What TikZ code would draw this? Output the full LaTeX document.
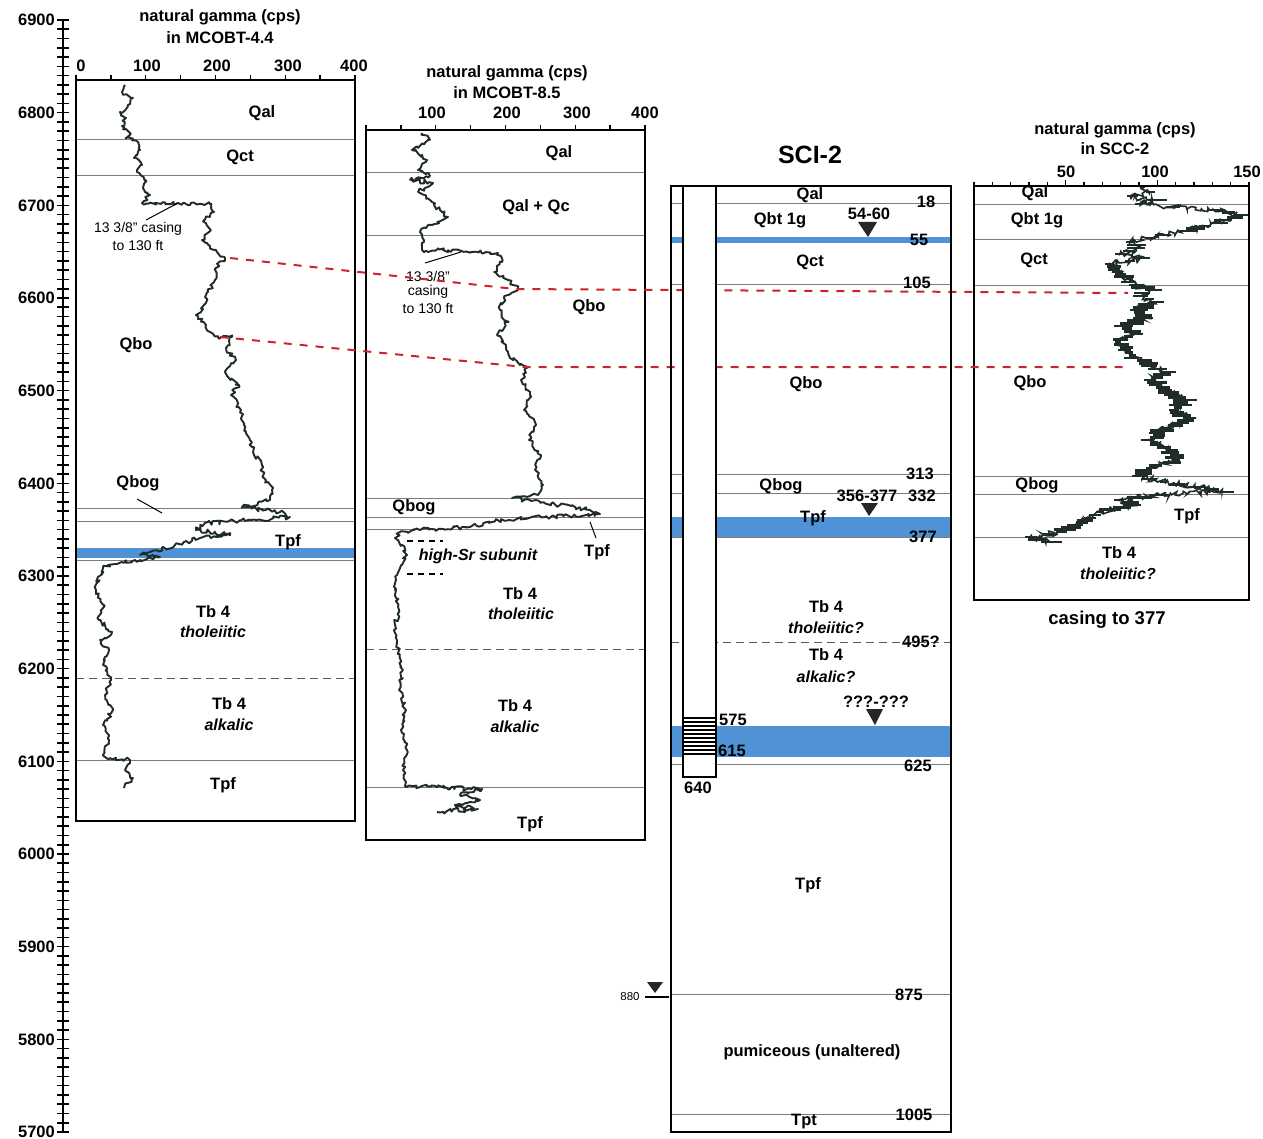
\documentclass[tikz,border=0pt]{standalone}
\usepackage{fontspec}
\setmainfont{Liberation Sans}
\usetikzlibrary{decorations.pathmorphing}
\definecolor{bandblue}{RGB}{80,146,214}
\definecolor{reddash}{RGB}{205,35,45}
\definecolor{curvec}{RGB}{32,44,38}
\definecolor{flinec}{RGB}{125,125,125}
\begin{document}
\begin{tikzpicture}[x=1pt,y=-1pt,
  box/.style={line width=1.7pt,draw=black},
  fline/.style={line width=0.8pt,draw=flinec},
  tdash/.style={line width=0.9pt,draw=black!65,dash pattern=on 8pt off 5pt},
  rdash/.style={line width=2pt,draw=reddash,dash pattern=on 8pt off 8pt},
  gcurve/.style={line width=1.9pt,draw=curvec,line join=round,decorate,decoration={random steps,segment length=2.5pt,amplitude=2.2pt}},
  lab/.style={font=\fontsize{16.5}{18}\selectfont\bfseries,inner sep=0pt},
  ilab/.style={font=\fontsize{16}{18}\selectfont\bfseries\itshape,inner sep=0pt},
  note/.style={font=\fontsize{14}{16}\selectfont,inner sep=0pt},
  ticku/.style={line width=1.3pt,draw=black},
  tri/.style={fill=black!85},
  leader/.style={line width=1pt,draw=black},
]
\useasboundingbox (0,0) rectangle (1263,1139);
\fill[white] (0,0) rectangle (1263,1139);
\pgfmathsetseed{12345}

% ---------------- left elevation axis ----------------
\draw[line width=1.6pt] (63,20) -- (63,1132);
\foreach \i in {0,...,120}{\draw[line width=1.6pt] (57,{20+\i*9.2667}) -- (69,{20+\i*9.2667});}
\foreach \e [count=\k from 0] in {6900,6800,6700,6600,6500,6400,6300,6200,6100,6000,5900,5800,5700}{
  \node[lab,anchor=east] (ax\k) at (55,{20+\k*92.667}) {\e};}

% ---------------- panel 1: MCOBT-4.4 ----------------
\node[lab] (t1a) at (220,17) {natural gamma (cps)};
\node[lab] (t1b) at (220,38) {in MCOBT-4.4};
\foreach \i in {0,...,8}{\draw[ticku] ({76+\i*34.875},80) -- ({76+\i*34.875},75);}
\node[lab] (p1n0) at (81,66) {0};
\node[lab] (p1n1) at (147,66) {100};
\node[lab] (p1n2) at (217,66) {200};
\node[lab] (p1n3) at (288,66) {300};
\node[lab] (p1n4) at (354,66) {400};
\fill[bandblue] (76,548) rectangle (355,558);
\foreach \yy in {139,175,508,521,560,760}{\draw[fline] (76,\yy) -- (355,\yy);}
\draw[tdash] (76,678) -- (355,678);
\draw[box] (76,80) rectangle (355,821);
\begin{scope}
\clip (77,81) rectangle (354,820);
\draw[gcurve] (125,85) -- (122,92) -- (133,98) -- (128,105) -- (120,112) -- (126,118) -- (122,126) -- (130,133) -- (126,138) -- (138,142) -- (140,150) -- (134,158) -- (142,165) -- (137,172) -- (145,180) -- (143,188) -- (150,195) -- (144,201) -- (142,203) -- (178,203) -- (210,204) -- (214,212) -- (204,220) -- (211,230) -- (202,240) -- (214,250) -- (225,258) -- (216,268) -- (215,280) -- (208,292) -- (204,305) -- (196,315) -- (206,325) -- (210,332) -- (218,337) -- (232,337) -- (226,348) -- (236,360) -- (225,372) -- (239,385) -- (231,395) -- (241,410) -- (244,425) -- (250,440) -- (254,455) -- (262,465) -- (264,478) -- (272,490) -- (270,500) -- (242,507) -- (280,512) -- (290,517) -- (252,520) -- (205,523) -- (196,530) -- (230,535) -- (200,538) -- (175,545) -- (150,552) -- (140,555) -- (160,557) -- (135,560) -- (115,564) -- (103,568) -- (98,577) -- (96,590) -- (104,605) -- (99,620) -- (112,632) -- (100,640) -- (109,650) -- (103,665) -- (111,680) -- (105,695) -- (113,710) -- (103,725) -- (109,740) -- (103,755) -- (110,758) -- (130,760) -- (125,770) -- (133,778) -- (124,788);
\end{scope}
\node[lab] (q1al) at (262,113) {Qal};
\node[lab] (q1ct) at (240,157) {Qct};
\node[lab] (q1bo) at (136,345) {Qbo};
\node[lab] (q1bog) at (138,483) {Qbog};
\node[lab] (q1tpf) at (288,542) {Tpf};
\node[lab] (q1tb) at (213,612) {Tb 4};
\node[ilab] (q1th) at (213,632) {tholeiitic};
\node[lab] (q1tb2) at (229,704) {Tb 4};
\node[ilab] (q1al2) at (229,725) {alkalic};
\node[lab] (q1tpf2) at (223,785) {Tpf};
\node[note] (cas1a) at (138,229) {13 3/8" casing};
\node[note] (cas1b) at (138,246) {to 130 ft};
\coordinate (cas1p) at (178,203);
\coordinate (cas1s) at (146,220);
\draw[leader] (cas1s) -- (cas1p);
\coordinate (bog1s) at (137,499);
\coordinate (bog1p) at (162,513);
\draw[leader] (bog1s) -- (bog1p);

% ---------------- panel 2: MCOBT-8.5 ----------------
\node[lab] (t2a) at (507,73) {natural gamma (cps)};
\node[lab] (t2b) at (507,93) {in MCOBT-8.5};
\foreach \i in {0,...,8}{\draw[ticku] ({366+\i*34.875},130) -- ({366+\i*34.875},125);}
\node[lab] (p2n1) at (432,113) {100};
\node[lab] (p2n2) at (507,113) {200};
\node[lab] (p2n3) at (577,113) {300};
\node[lab] (p2n4) at (645,113) {400};
\foreach \yy in {172,235,498,517,529,787}{\draw[fline] (366,\yy) -- (645,\yy);}
\draw[tdash] (366,649) -- (645,649);
\draw[line width=1.1pt,dash pattern=on 6pt off 5pt] (407,541) -- (443,541);
\draw[line width=1.1pt,dash pattern=on 6pt off 5pt] (407,574) -- (443,574);
\draw[box] (366,130) rectangle (645,840);
\begin{scope}
\clip (367,131) rectangle (644,839);
\draw[gcurve] (422,133) -- (430,140) -- (412,150) -- (427,160) -- (418,170) -- (430,176) -- (410,180) -- (433,183) -- (418,192) -- (430,200) -- (440,210) -- (448,217) -- (432,225) -- (420,232) -- (424,242) -- (422,250) -- (460,251) -- (498,253) -- (502,262) -- (494,272) -- (508,280) -- (518,288) -- (504,298) -- (500,310) -- (507,322) -- (497,335) -- (506,345) -- (510,358) -- (520,365) -- (528,367) -- (521,380) -- (530,395) -- (524,410) -- (536,425) -- (529,440) -- (541,455) -- (535,470) -- (543,485) -- (538,495) -- (512,498) -- (560,505) -- (590,510) -- (600,514) -- (545,517) -- (495,521) -- (470,527) -- (420,530) -- (400,532) -- (395,538) -- (402,545) -- (407,555) -- (402,565) -- (397,575) -- (395,590) -- (399,610) -- (394,630) -- (399,650) -- (403,670) -- (399,690) -- (406,710) -- (401,730) -- (407,750) -- (403,770) -- (405,786) -- (482,789) -- (460,795) -- (480,800) -- (455,805) -- (478,809) -- (437,812);
\end{scope}
\node[lab] (q2al) at (559,153) {Qal};
\node[lab] (q2alc) at (536,207) {Qal + Qc};
\node[lab] (q2bo) at (589,307) {Qbo};
\node[note] (cas2a) at (428,276) {13 3/8"};
\node[note] (cas2b) at (428,292) {casing};
\node[note] (cas2c) at (428,309) {to 130 ft};
\coordinate (cas2s) at (425,263);
\coordinate (cas2p) at (461,252);
\draw[leader] (cas2s) -- (cas2p);
\node[lab] (q2bog) at (414,507) {Qbog};
\node[lab] (q2tpf) at (597,552) {Tpf};
\coordinate (tpf2s) at (596,538);
\coordinate (tpf2p) at (590,522);
\draw[leader] (tpf2s) -- (tpf2p);
\node[ilab] (q2hsr) at (478,556) {high-Sr subunit};
\node[lab] (q2tb) at (520,594) {Tb 4};
\node[ilab] (q2th) at (521,614) {tholeiitic};
\node[lab] (q2tb2) at (515,706) {Tb 4};
\node[ilab] (q2alk) at (515,727) {alkalic};
\node[lab] (q2tpf2) at (530,824) {Tpf};

% ---------------- panel 3: SCI-2 ----------------
\node[font=\fontsize{25}{28}\selectfont\bfseries,inner sep=0pt] (sci) at (810,155) {SCI-2};
\fill[bandblue] (671,237) rectangle (951,243);
\fill[bandblue] (671,517) rectangle (951,537);
\fill[bandblue] (671,726) rectangle (951,757);
\foreach \yy in {203,284,474,493,537,764,994,1114}{\draw[fline] (671,\yy) -- (951,\yy);}
\draw[tdash] (671,642) -- (951,642);

% ---------------- panel 4: SCC-2 ----------------
\node[lab] (t4a) at (1115,130) {natural gamma (cps)};
\node[lab] (t4b) at (1115,149) {in SCC-2};
\foreach \i in {0,...,15}{\draw[ticku] ({974+\i*18.333},186) -- ({974+\i*18.333},182);}
\foreach \i in {5,10}{\draw[ticku] ({974+\i*18.333},186) -- ({974+\i*18.333},180);}
\node[lab] (p4n1) at (1066,172) {50};
\node[lab] (p4n2) at (1155,172) {100};
\node[lab] (p4n3) at (1247,172) {150};
\foreach \yy in {204,239,285,476,494,537}{\draw[fline] (974,\yy) -- (1249,\yy);}
\begin{scope}
\clip (975,187) rectangle (1248,599);
\draw[line width=1.6pt,draw=curvec,decorate,decoration={random steps,segment length=2pt,amplitude=3pt}] (1140,188) -- (1150,192) -- (1130,196) -- (1155,200) -- (1140,204) -- (1175,207) -- (1213,210) -- (1240,215) -- (1225,220) -- (1205,226) -- (1185,231) -- (1165,235) -- (1150,238) -- (1130,242) -- (1140,248) -- (1120,254) -- (1145,258) -- (1110,264) -- (1118,272) -- (1128,279) -- (1135,285) -- (1150,290) -- (1140,296) -- (1155,302) -- (1135,310) -- (1145,318) -- (1125,326) -- (1135,334) -- (1118,342) -- (1125,350) -- (1135,358) -- (1150,366) -- (1165,372) -- (1150,380) -- (1165,390) -- (1185,400) -- (1175,410) -- (1190,418) -- (1165,428) -- (1150,440) -- (1170,450) -- (1178,460) -- (1150,468) -- (1140,476) -- (1165,482) -- (1200,487) -- (1222,492) -- (1160,495) -- (1120,500) -- (1135,505) -- (1100,512) -- (1090,518) -- (1075,525) -- (1060,532) -- (1030,537) -- (1050,542);
\foreach \x/\y [remember=\x as \px (initially 1140), remember=\y as \py (initially 188)] in {1150/192,1130/196,1155/200,1140/204,1175/207,1213/210,1240/215,1225/220,1205/226,1185/231,1165/235,1150/238,1130/242,1140/248,1120/254,1145/258,1110/264,1118/272,1128/279,1135/285,1150/290,1140/296,1155/302,1135/310,1145/318,1125/326,1135/334,1118/342,1125/350,1135/358,1150/366,1165/372,1150/380,1165/390,1185/400,1175/410,1190/418,1165/428,1150/440,1170/450,1178/460,1150/468,1140/476,1165/482,1200/487,1222/492,1160/495,1120/500,1135/505,1100/512,1090/518,1075/525,1060/532,1030/537,1050/542}{
  \pgfmathtruncatemacro{\nn}{max(1,abs(\y-\py)/2.2)}
  \foreach \k in {1,...,\nn}{
    \pgfmathsetmacro{\cx}{\px+(\x-\px)*\k/\nn}
    \pgfmathsetmacro{\cy}{\py+(\y-\py)*\k/\nn}
    \pgfmathsetmacro{\la}{2+11*rnd}
    \pgfmathsetmacro{\lb}{2+11*rnd}
    \draw[line width=2.6pt,draw=curvec] (\cx-\la,\cy) -- (\cx+\lb,\cy);
  }
}
\end{scope}
\draw[box] (974,186) rectangle (1249,600);
\node[lab] (q4al) at (1035,193) {Qal};
\node[lab] (q4bt) at (1037,220) {Qbt 1g};
\node[lab] (q4ct) at (1034,260) {Qct};
\node[lab] (q4bo) at (1030,383) {Qbo};
\node[lab] (q4bog) at (1037,485) {Qbog};
\node[lab] (q4tpf) at (1187,516) {Tpf};
\node[lab] (q4tb) at (1119,553) {Tb 4};
\node[ilab] (q4th) at (1118,574) {tholeiitic?};
\node[font=\fontsize{18.5}{20}\selectfont\bfseries,inner sep=0pt] (cas4) at (1107,620) {casing to 377};

% ---------------- red correlation lines ----------------
\coordinate (r1a) at (230,258);
\coordinate (r1b) at (515,289);
\coordinate (r1c) at (1128,293);
\coordinate (r2a) at (220,337);
\coordinate (r2b) at (525,367);
\coordinate (r2c) at (1125,367);
\draw[rdash] (r1a) -- (r1b) -- (r1c);
\draw[rdash] (r2a) -- (r2b) -- (r2c);

% ---------------- SCI-2 casing tube & labels (on top) ----------------
\draw[line width=1.4pt,fill=white] (683,186) rectangle (716,777);
\foreach \yy in {718,722,...,754}{\draw[line width=1.3pt] (683,\yy) -- (716,\yy);}
\draw[box] (671,186) rectangle (951,1132);
\fill[tri] (858,222) -- (877,222) -- (868,237) -- cycle;
\fill[tri] (861,503) -- (878,503) -- (869,516) -- cycle;
\fill[tri] (866,709) -- (883,709) -- (875,725) -- cycle;
\fill[tri] (647,982) -- (663,982) -- (655,993) -- cycle;
\draw[line width=1.3pt] (645,997) -- (669,997);
\node[font=\fontsize{11.5}{13}\selectfont,inner sep=0pt] (w880) at (630,997) {880};
\node[lab] (s18) at (926,202) {18};
\node[lab] (s55) at (919,240) {55};
\node[lab] (s105) at (917,283) {105};
\node[lab] (s313) at (920,474) {313};
\node[lab] (s332) at (922,496) {332};
\node[lab] (s377) at (923,537) {377};
\node[lab] (s495) at (921,642) {495?};
\node[lab] (s575) at (733,720) {575};
\node[lab] (s615) at (732,751) {615};
\node[lab] (s625) at (918,766) {625};
\node[lab] (s640) at (698,788) {640};
\node[lab] (s875) at (909,995) {875};
\node[lab] (s1005) at (914,1115) {1005};
\node[lab] (c3al) at (810,195) {Qal};
\node[lab] (c3bt) at (780,220) {Qbt 1g};
\node[lab] (c3w1) at (869,214) {54-60};
\node[lab] (c3ct) at (810,262) {Qct};
\node[lab] (c3bo) at (806,384) {Qbo};
\node[lab] (c3bog) at (781,486) {Qbog};
\node[lab] (c3w2) at (867,496) {356-377};
\node[lab] (c3tpf) at (813,518) {Tpf};
\node[lab] (c3tb) at (826,607) {Tb 4};
\node[ilab] (c3th) at (826,628) {tholeiitic?};
\node[lab] (c3tb2) at (826,655) {Tb 4};
\node[ilab] (c3alk) at (826,677) {alkalic?};
\node[lab] (c3w3) at (876,702) {???-???};
\node[lab] (c3tpf2) at (808,885) {Tpf};
\node[lab] (c3pum) at (812,1052) {pumiceous (unaltered)};
\node[lab] (c3tpt) at (804,1122) {Tpt};
\end{tikzpicture}
\end{document}
